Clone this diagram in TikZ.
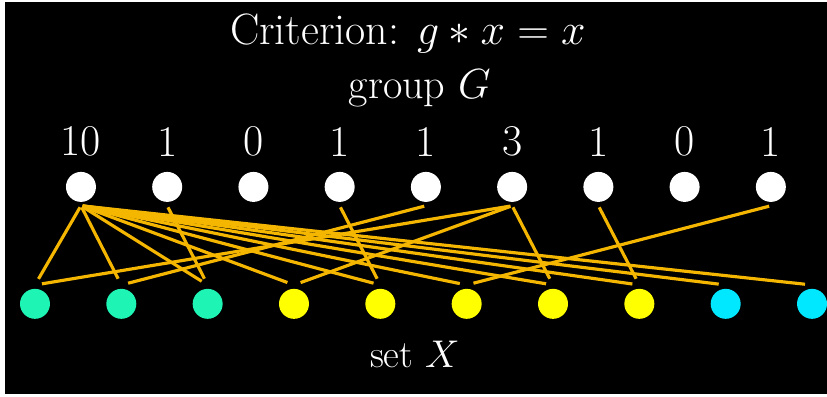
\documentclass[tikz,border=0pt]{standalone}
\usepackage{fix-cm}
\usepackage{amsmath}
\usepackage{fontspec}
\usepackage{tikz}
\usetikzlibrary{positioning}
\definecolor{orbgreen}{RGB}{30,245,180}
\definecolor{orbyellow}{RGB}{255,255,0}
\definecolor{orbcyan}{RGB}{0,232,255}
\definecolor{fixline}{RGB}{245,182,0}

\begin{document}
\begin{tikzpicture}[x=0.02cm, y=-0.02cm,
  gel/.style={circle, fill=white, minimum size=0.6cm, inner sep=0pt},
  xel/.style={circle, minimum size=0.6cm, inner sep=0pt},
  num/.style={text=white, inner sep=0pt, font=\fontsize{25}{30}\selectfont},
  head/.style={text=white, inner sep=0pt, anchor=base},
  link/.style={draw=fixline, line width=1.8pt, shorten <=1pt, shorten >=4pt}
]

%% ---------- FRAME ----------
\fill[white] (0,0) rectangle (827,397);
\fill[black] (5,2) rectangle (827,394);

%% ---------- TITLES ----------
\node[head, font=\fontsize{25}{30}\selectfont] (crit) at (408,45) {Criterion: $g*x=x$};
\node[head, font=\fontsize{24}{29}\selectfont] (grp)  at (420,99) {group $G$};
\node[head, font=\fontsize{22}{26}\selectfont] (setx) at (415,368) {set $X$};

%% ---------- GROUP G (top row) ----------
\node[gel] (g1) at (81,187) {};
\node[gel, right=1.112cm of g1] (g2) {};
\node[gel, right=1.112cm of g2] (g3) {};
\node[gel, right=1.112cm of g3] (g4) {};
\node[gel, right=1.112cm of g4] (g5) {};
\node[gel, right=1.112cm of g5] (g6) {};
\node[gel, right=1.112cm of g6] (g7) {};
\node[gel, right=1.112cm of g7] (g8) {};
\node[gel, right=1.112cm of g8] (g9) {};

%% ---------- FIXED POINT COUNTS ----------
\node[num, above=0.3cm of g1] (n1) {10};
\node[num, above=0.3cm of g2] (n2) {1};
\node[num, above=0.3cm of g3] (n3) {0};
\node[num, above=0.3cm of g4] (n4) {1};
\node[num, above=0.3cm of g5] (n5) {1};
\node[num, above=0.3cm of g6] (n6) {3};
\node[num, above=0.3cm of g7] (n7) {1};
\node[num, above=0.3cm of g8] (n8) {0};
\node[num, above=0.3cm of g9] (n9) {1};

%% ---------- SET X (bottom row) ----------
\node[xel, fill=orbgreen] (x1) at (35,304) {};
\node[xel, fill=orbgreen,  right=1.114cm of x1] (x2) {};
\node[xel, fill=orbgreen,  right=1.114cm of x2] (x3) {};
\node[xel, fill=orbyellow, right=1.114cm of x3] (x4) {};
\node[xel, fill=orbyellow, right=1.114cm of x4] (x5) {};
\node[xel, fill=orbyellow, right=1.114cm of x5] (x6) {};
\node[xel, fill=orbyellow, right=1.114cm of x6] (x7) {};
\node[xel, fill=orbyellow, right=1.114cm of x7] (x8) {};
\node[xel, fill=orbcyan,   right=1.114cm of x8] (x9) {};
\node[xel, fill=orbcyan,   right=1.114cm of x9] (x10) {};

%% ---------- IDENTITY FIXES EVERYTHING ----------
\draw[link] ([yshift=-2pt]g1.south) -- ([yshift=2pt]x1.north);
\draw[link] ([yshift=-2pt]g1.south) -- ([yshift=2pt]x2.north);
\draw[link] ([yshift=-2pt]g1.south) -- ([yshift=2pt]x3.north);
\draw[link] ([yshift=-2pt]g1.south) -- ([yshift=2pt]x4.north);
\draw[link] ([yshift=-2pt]g1.south) -- ([yshift=2pt]x5.north);
\draw[link] ([yshift=-2pt]g1.south) -- ([yshift=2pt]x6.north);
\draw[link] ([yshift=-2pt]g1.south) -- ([yshift=2pt]x7.north);
\draw[link] ([yshift=-2pt]g1.south) -- ([yshift=2pt]x8.north);
\draw[link] ([yshift=-2pt]g1.south) -- ([yshift=2pt]x9.north);
\draw[link] ([yshift=-2pt]g1.south) -- ([yshift=2pt]x10.north);

%% ---------- OTHER ELEMENTS ----------
\draw[link] ([yshift=-2pt]g2.south) -- ([yshift=2pt]x3.north);
\draw[link] ([yshift=-2pt]g4.south) -- ([yshift=2pt]x5.north);
\draw[link] ([yshift=-2pt]g5.south) -- ([yshift=2pt]x2.north);
\draw[link] ([yshift=-2pt]g6.south) -- ([yshift=2pt]x1.north);
\draw[link] ([yshift=-2pt]g6.south) -- ([yshift=2pt]x4.north);
\draw[link] ([yshift=-2pt]g6.south) -- ([yshift=2pt]x7.north);
\draw[link] ([yshift=-2pt]g7.south) -- ([yshift=2pt]x8.north);
\draw[link] ([yshift=-2pt]g9.south) -- ([yshift=2pt]x6.north);

\end{tikzpicture}
\end{document}
